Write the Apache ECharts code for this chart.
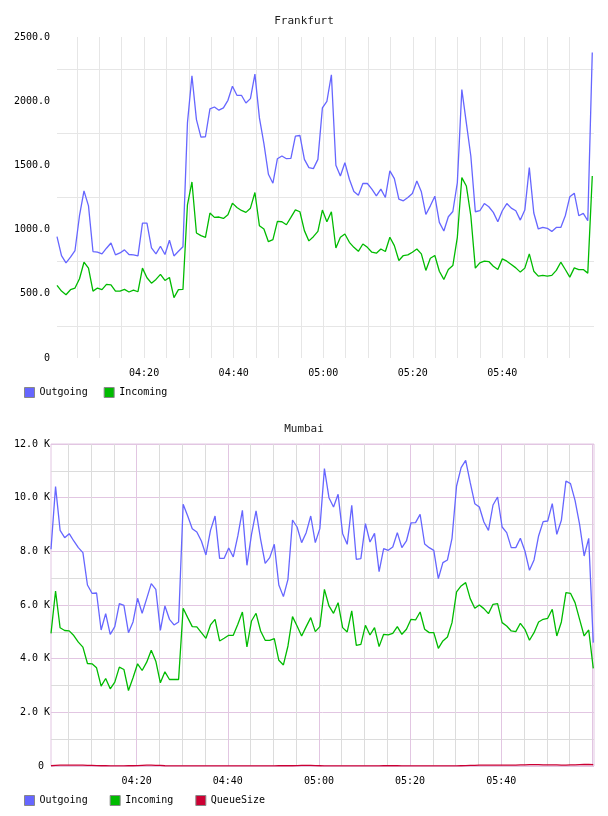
<!DOCTYPE html>
<html>
<head>
<meta charset="utf-8">
<script src="https://cdn.jsdelivr.net/npm/echarts@6/dist/echarts.min.js"></script>
<style>
html,body{margin:0;padding:0;background:#fff;}
#chart{width:608px;height:816px;}
</style>
</head>
<body>
<div id="chart"></div>
<script>
// Time axis: minutes after 04:00
const frankfurtStart = 0.55, frankfurtStep = 1.0045;
const mumbaiStart = 1.2, mumbaiStep = 1.0;
const frankfurtRange = [0.55, 120.47];
const mumbaiRange = [1.2, 120.36];
const timeLabels = [20, 40, 60, 80, 100]; // 04:20 .. 05:40

const frankfurtOutgoing = [945,798,741,785,837,1108,1302,1185,829,824,811,855,896,803,818,842,806,803,795,1051,
1051,857,811,870,806,917,795,831,867,1831,2198,1857,1720,1723,1940,1955,1930,1948,2007,2116,
2046,2046,1986,2020,2211,1870,1669,1431,1361,1552,1573,1552,1555,1728,1733,1547,1483,1475,1547,1948,
1999,2206,1501,1418,1521,1392,1297,1268,1359,1359,1315,1263,1315,1250,1457,1397,1237,1224,1250,1281,
1379,1294,1118,1185,1260,1056,989,1100,1141,1366,2090,1831,1573,1139,1147,1203,1178,1134,1061,1147,
1203,1167,1147,1074,1152,1483,1129,1005,1017,1010,986,1017,1017,1108,1255,1284,1108,1126,1069,2380];

const frankfurtIncoming = [565,521,493,532,545,617,746,700,521,545,532,573,570,521,521,534,514,529,516,700,
625,583,612,651,604,627,470,532,534,1193,1371,974,953,940,1129,1095,1098,1087,1116,1206,
1172,1149,1134,1167,1289,1030,1004,906,922,1064,1061,1038,1095,1154,1139,992,912,945,986,1152,
1061,1139,857,940,966,901,862,831,888,862,824,816,849,829,940,875,759,798,803,824,
849,811,682,777,798,676,612,689,720,940,1405,1340,1108,700,741,754,751,715,689,772,
754,728,702,669,700,811,676,638,643,638,643,682,746,689,630,702,689,689,661,1418];

const mumbaiOutgoing = [8075,10410,8783,8510,8659,8386,8137,7951,6746,6436,6448,5070,5678,4908,5194,6051,5989,4970,5368,6250,
5691,6237,6796,6585,5057,5964,5467,5256,5368,9752,9317,8845,8721,8386,7864,8783,9317,7740,7740,8125,
7790,8572,9528,7479,8634,9504,8448,7554,7765,8262,6746,6312,6957,9168,8907,8324,8696,9317,8324,8845,
11081,10000,9653,10125,8659,8262,9715,7703,7728,9032,8349,8671,7243,8100,8038,8162,8696,8137,8386,9057,
9069,9379,8274,8137,8038,6982,7578,7678,8485,10435,11118,11391,10559,9777,9653,9094,8783,9727,10025,8907,
8696,8137,8137,8485,8013,7293,7678,8572,9106,9131,9777,8634,9156,10621,10522,9901,9007,7827,8485,4598];

const mumbaiIncoming = [4945,6523,5150,5050,5037,4863,4615,4429,3820,3808,3659,2975,3261,2876,3125,3683,3597,2814,3286,3808,
3559,3870,4317,3907,3100,3510,3224,3224,3224,5877,5529,5194,5182,4970,4759,5256,5467,4660,4759,4871,
4871,5281,5740,4436,5405,5691,5032,4685,4685,4747,3939,3765,4473,5567,5219,4846,5194,5529,5007,5194,
6585,5964,5691,6088,5157,4995,5778,4498,4536,5244,4883,5157,4449,4908,4883,4945,5194,4908,5095,5467,
5442,5740,5095,4970,4970,4387,4660,4809,5343,6486,6709,6833,6237,5877,6001,5865,5678,6026,6051,5343,
5219,5032,5007,5318,5095,4685,4970,5368,5467,5504,5840,4846,5368,6461,6436,6088,5467,4846,5070,3641];

const mumbaiQueue = [10,25,30,35,35,35,30,30,25,20,15,10,10,5,5,5,5,10,10,15,25,30,30,25,20,10,5,5,5,5,
5,5,5,5,5,5,5,5,5,5,5,5,5,5,5,5,5,5,5,5,
10,10,10,10,15,20,25,20,15,10,5,5,5,5,5,5,5,5,5,5,
5,5,5,10,10,10,10,5,5,5,5,5,5,5,5,5,5,5,5,5,
10,15,20,25,30,35,35,35,30,30,30,30,35,40,45,50,50,50,45,40,
40,40,35,35,40,45,50,55,55,50];

const frankfurtYTicks = {min: 0, max: 2500, step: 500};
const mumbaiYTicks = {min: 0, max: 12000, step: 2000};

const MONO = '"DejaVu Sans Mono", "Liberation Mono", monospace';
const BLUE = '#6666ff', GREEN = '#00bb00', RED = '#cc0033';

function pairs(start, step, vals) {
  return vals.map((v, i) => [start + i * step, v]);
}
function timeFmt(v) {
  const r = Math.round(v);
  if (Math.abs(v - r) > 1e-6 || timeLabels.indexOf(r) < 0) return '';
  const h = 4 + Math.floor(r / 60), m = r % 60;
  return (h < 10 ? '0' : '') + h + ':' + (m < 10 ? '0' : '') + m;
}

// Frankfurt vertical grid: 5-minute lines 04:05..06:00, the 06:00 one not drawn
const topGridColors = [];
for (let k = 0; k < 23; k++) topGridColors.push('#e6e6e6');
topGridColors.push('rgba(0,0,0,0)');

const chart = echarts.init(document.getElementById('chart'), null, {renderer: 'canvas'});

const labelStyle = {fontFamily: MONO, fontSize: 10, color: '#000'};

const lineSeries = (name, data, color, xi, yi) => ({
  name, type: 'line', data, xAxisIndex: xi, yAxisIndex: yi,
  showSymbol: false, symbol: 'none', color,
  lineStyle: {width: 1.3, color}, itemStyle: {color},
  emphasis: {disabled: true}, animation: false
});

chart.setOption({
  animation: false,
  color: [BLUE, GREEN, RED],
  title: [
    {text: 'Frankfurt', left: 'center', top: 16, padding: 0,
     textStyle: {fontFamily: MONO, fontSize: 11, fontWeight: 'normal', color: '#222'}},
    {text: 'Mumbai', left: 'center', top: 424, padding: 0,
     textStyle: {fontFamily: MONO, fontSize: 11, fontWeight: 'normal', color: '#222'}}
  ],
  legend: [
    {data: ['Outgoing', 'Incoming'], left: 24, top: 387, padding: 0, itemGap: 16,
     itemWidth: 10, itemHeight: 10, icon: 'rect',
     itemStyle: {borderColor: '#888', borderWidth: 1},
     textStyle: {fontFamily: MONO, fontSize: 10, color: '#000'}},
    {data: ['Outgoing', 'Incoming', 'QueueSize'], left: 24, top: 795, padding: 0, itemGap: 22,
     itemWidth: 10, itemHeight: 10, icon: 'rect',
     itemStyle: {borderColor: '#888', borderWidth: 1},
     textStyle: {fontFamily: MONO, fontSize: 10, color: '#000'}}
  ],
  grid: [
    {left: 57, top: 37, width: 537, height: 321, show: false},
    {left: 51, top: 444, width: 543, height: 322, show: true, borderColor: '#e2c6e2', borderWidth: 1, backgroundColor: 'transparent'}
  ],
  xAxis: [
    {type: 'value', gridIndex: 0, min: frankfurtRange[0], max: frankfurtRange[1],
     splitNumber: 24, minInterval: 5, maxInterval: 5,
     axisLine: {show: false}, axisTick: {show: false},
     splitLine: {show: true, showMinLine: false, showMaxLine: false, lineStyle: {color: topGridColors, width: 1}},
     axisLabel: Object.assign({formatter: timeFmt, margin: 10, showMinLabel: false, showMaxLabel: false, hideOverlap: false}, labelStyle)},
    {type: 'value', gridIndex: 1, min: mumbaiRange[0], max: mumbaiRange[1],
     splitNumber: 24, minInterval: 5, maxInterval: 5,
     axisLine: {show: false}, axisTick: {show: false},
     splitLine: {show: true, showMinLine: false, showMaxLine: false, lineStyle: {color: '#dcdcdc', width: 1}},
     axisLabel: Object.assign({formatter: timeFmt, margin: 10, showMinLabel: false, showMaxLabel: false, hideOverlap: false}, labelStyle)},
    {type: 'value', gridIndex: 1, min: mumbaiRange[0], max: mumbaiRange[1], z: 1,
     splitNumber: 6, minInterval: 20, maxInterval: 20,
     axisLine: {show: false}, axisTick: {show: false}, axisLabel: {show: false},
     splitLine: {show: true, showMinLine: false, showMaxLine: false, lineStyle: {color: '#e2c6e2', width: 1}}}
  ],
  yAxis: [
    {type: 'value', gridIndex: 0, min: frankfurtYTicks.min, max: frankfurtYTicks.max, interval: frankfurtYTicks.step,
     axisLine: {show: false}, axisTick: {show: false},
     splitLine: {show: false},
     minorTick: {show: false, splitNumber: 2},
     minorSplitLine: {show: true, lineStyle: {color: '#e6e6e6', width: 1}},
     axisLabel: Object.assign({margin: 7, formatter: v => v === 0 ? '0' : v.toFixed(1)}, labelStyle)},
    {type: 'value', gridIndex: 1, min: mumbaiYTicks.min, max: mumbaiYTicks.max, interval: mumbaiYTicks.step,
     axisLine: {show: false}, axisTick: {show: false},
     splitLine: {show: true, lineStyle: {color: '#e2c6e2', width: 1}},
     minorTick: {show: false, splitNumber: 2},
     minorSplitLine: {show: true, lineStyle: {color: '#dcdcdc', width: 1}},
     axisLabel: Object.assign({margin: 1, formatter: v => v === 0 ? '0 ' : (v / 1000).toFixed(1) + ' K'}, labelStyle)}
  ],
  series: [
    lineSeries('Outgoing', pairs(frankfurtStart, frankfurtStep, frankfurtOutgoing), BLUE, 0, 0),
    lineSeries('Incoming', pairs(frankfurtStart, frankfurtStep, frankfurtIncoming), GREEN, 0, 0),
    lineSeries('Outgoing', pairs(mumbaiStart, mumbaiStep, mumbaiOutgoing), BLUE, 1, 1),
    lineSeries('Incoming', pairs(mumbaiStart, mumbaiStep, mumbaiIncoming), GREEN, 1, 1),
    lineSeries('QueueSize', pairs(mumbaiStart, mumbaiStep, mumbaiQueue), RED, 1, 1)
  ]
});
</script>
</body>
</html>
